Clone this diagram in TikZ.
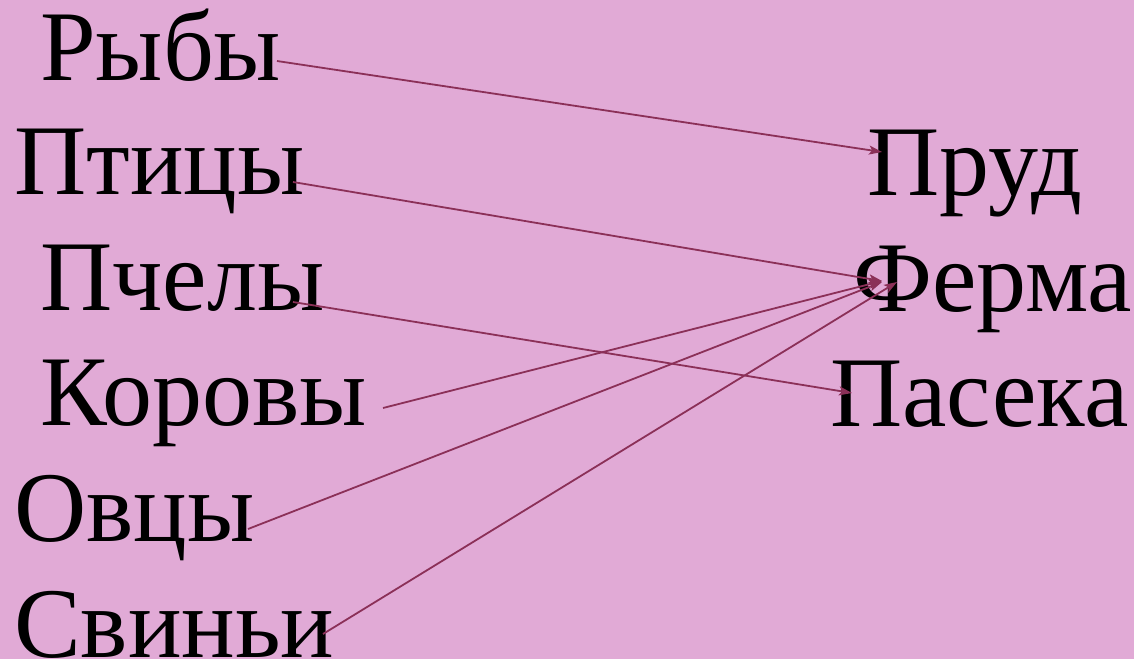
\documentclass[tikz,border=0pt]{standalone}
\usepackage{fontspec}
\setmainfont{Liberation Serif}
\usetikzlibrary{arrows.meta}
\definecolor{bgpink}{HTML}{E1AAD6}
\definecolor{linkcol}{HTML}{8B3058}
\begin{document}
\begin{tikzpicture}[x=1pt,y=-1pt,
  word/.style={anchor=base west,inner sep=0pt,font=\fontsize{100}{100}\selectfont,text=black},
  link/.style={draw=linkcol,line width=1.8pt,-{Stealth[length=13pt,width=9pt,inset=3pt]}}]
\fill[bgpink] (0,0) rectangle (1134,659);
\useasboundingbox (0,0) rectangle (1134,659);
\node[word] (ryby) at (40,80) {Рыбы};
\node[word] (ptitsy) at (14,194) {Птицы};
\node[word] (pchely) at (40,310) {Пчелы};
\node[word] (korovy) at (40,425) {Коровы};
\node[word] (ovtsy) at (14,541) {Овцы};
\node[word] (sviniy) at (14,657) {Свиньи};
\node[word] (prud) at (867,195) {Пруд};
\node[word] (ferma) at (853,311) {Ферма};
\node[word] (paseka) at (830,426) {Пасека};
\coordinate (ryby-o) at (277,61);
\coordinate (ptitsy-o) at (293,182);
\coordinate (pchely-o) at (293,302);
\coordinate (korovy-o) at (383,408);
\coordinate (ovtsy-o) at (248,529);
\coordinate (sviniy-o) at (323,634);
\coordinate (prud-i) at (882,152);
\coordinate (ferma-i1) at (882,281);
\coordinate (ferma-i2) at (882,282);
\coordinate (ferma-i3) at (897,282);
\coordinate (paseka-i) at (852,393);
\draw[link] (ryby-o) -- (prud-i);
\draw[link] (ptitsy-o) -- (ferma-i1);
\draw[link] (pchely-o) -- (paseka-i);
\draw[link] (korovy-o) -- (ferma-i1);
\draw[link] (ovtsy-o) -- (ferma-i2);
\draw[link] (sviniy-o) -- (ferma-i3);
\end{tikzpicture}
\end{document}
